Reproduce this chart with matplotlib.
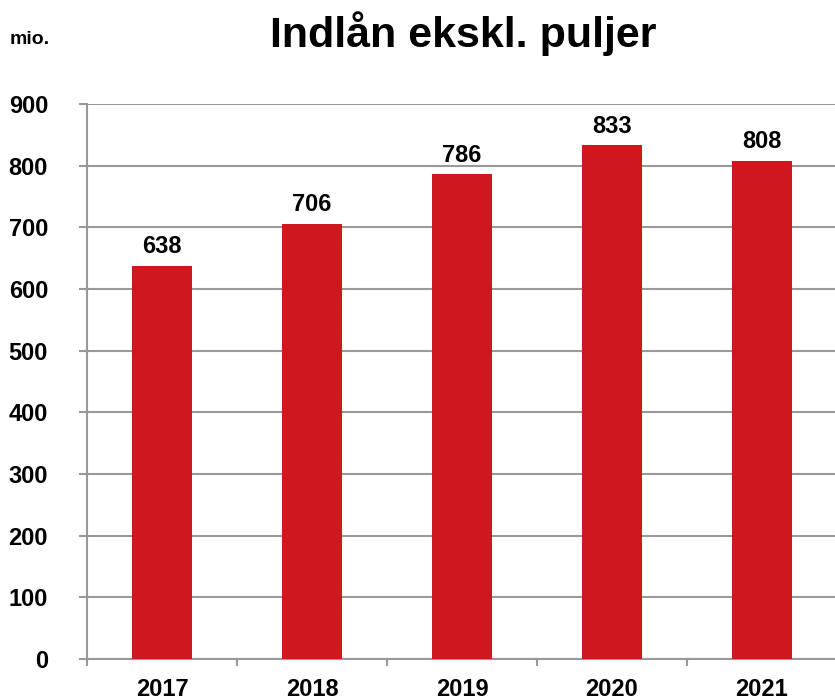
import numpy as np
import matplotlib
matplotlib.use("Agg")
import matplotlib.pyplot as plt
from matplotlib.ticker import FixedLocator

# data
years = ['2017', '2018', '2019', '2020', '2021']
values = [638, 706, 786, 833, 808]
y_ticks = [0, 100, 200, 300, 400, 500, 600, 700, 800, 900]

plt.rcParams['font.family'] = ['Liberation Sans', 'DejaVu Sans']
plt.rcParams['font.weight'] = 'bold'

fig = plt.figure(figsize=(8.35, 6.98), dpi=100)
ax = fig.add_axes([87/835, 39/698, 750/835, 555/698])

x = np.arange(len(years))
bars = ax.bar(x, values, width=0.4, color='#CF181D', zorder=3)

for xi, v in zip(x, values):
    ax.text(xi, v + 12, str(v), ha='center', va='bottom',
            fontsize=17, fontweight='bold')

ax.set_xlim(-0.5, len(years) - 0.5)
ax.set_ylim(0, 900)
ax.set_yticks(y_ticks)
ax.set_yticklabels([str(t) for t in y_ticks], fontsize=17, fontweight='bold')

# year labels centred, tick marks on the boundaries
ax.set_xticks(x)
ax.set_xticklabels(years, fontsize=17, fontweight='bold')
ax.tick_params(axis='x', which='major', length=0, pad=14)
ax.xaxis.set_minor_locator(FixedLocator(np.arange(-0.5, len(years), 1.0)))
ax.tick_params(axis='x', which='minor', length=5, width=1.5, color='#999999')
ax.tick_params(axis='y', length=6, width=1.5, color='#999999', pad=22)

ax.grid(axis='y', color='#999999', linewidth=1.5, zorder=0)
for s in ['top', 'right']:
    ax.spines[s].set_visible(False)
for s in ['left', 'bottom']:
    ax.spines[s].set_color('#999999')
    ax.spines[s].set_linewidth(1.5)

fig.text(0.555, 0.952, 'Indlån ekskl. puljer', ha='center', va='center',
         fontsize=31, fontweight='bold')
fig.text(10/835, 0.943, 'mio.', ha='left', va='center', fontsize=14,
         fontweight='bold')

fig.savefig('out.png', dpi=100)
